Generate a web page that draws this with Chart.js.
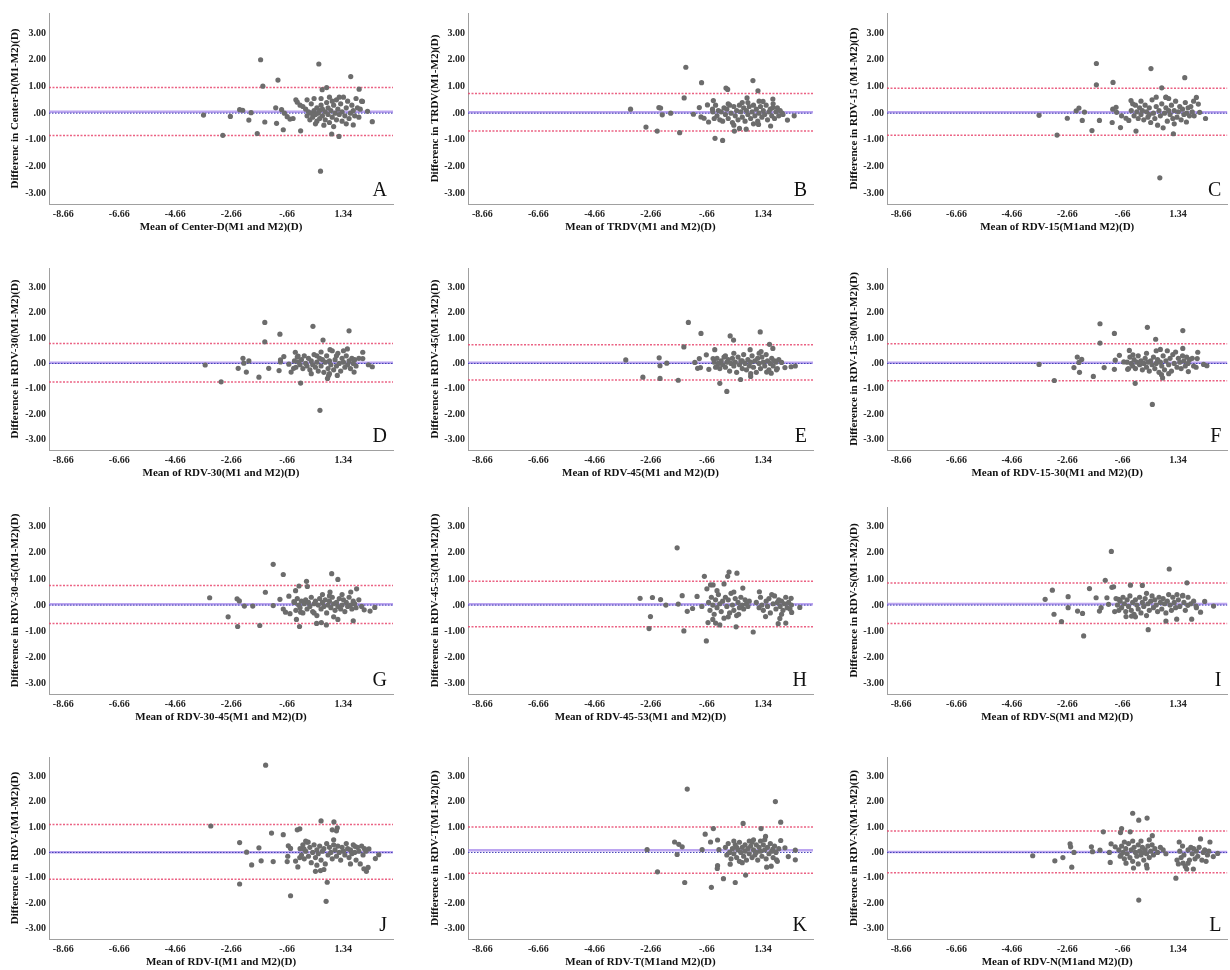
<!DOCTYPE html>
<html>
<head>
<meta charset="utf-8">
<script src="https://cdn.jsdelivr.net/npm/chart.js@4.4.0/dist/chart.umd.min.js"></script>
<style>
  html, body { margin: 0; padding: 0; background: #fff; overflow: hidden; }
  body { width: 1230px; height: 970px; position: relative; }
  canvas { position: absolute; }
</style>
</head>
<body>
<script>
// ---- data ----
const panelLetters = ['A','B','C','D','E','F','G','H','I','J','K','L'];

const yTitles = [
  'Differenc in Center-D(M1-M2)(D)',
  'Differenc in TRDV(M1-M2)(D)',
  'Difference in RDV-15 (M1-M2)(D)',
  'Difference in RDV-30(M1-M2)(D)',
  'Difference in RDV-45(M1-M2)(D)',
  'Difference in RDV-15-30(M1-M2)(D)',
  'Difference in RDV-30-45(M1-M2)(D)',
  'Difference in RDV-45-53(M1-M2)(D)',
  'Difference in RDV-S(M1-M2)(D)',
  'Difference in RDV-I(M1-M2)(D)',
  'Difference in RDV-T(M1-M2)(D)',
  'Difference in RDV-N(M1-M2)(D)'
];

const xTitles = [
  'Mean of Center-D(M1 and M2)(D)',
  'Mean of TRDV(M1 and M2)(D)',
  'Mean of RDV-15(M1and M2)(D)',
  'Mean of RDV-30(M1 and M2)(D)',
  'Mean of RDV-45(M1 and M2)(D)',
  'Mean of RDV-15-30(M1 and M2)(D)',
  'Mean of RDV-30-45(M1 and M2)(D)',
  'Mean of RDV-45-53(M1 and M2)(D)',
  'Mean of RDV-S(M1 and M2)(D)',
  'Mean of RDV-I(M1 and M2)(D)',
  'Mean of RDV-T(M1and M2)(D)',
  'Mean of RDV-N(M1and M2)(D)'
];

const meanDiff = [0.05, 0.03, 0.03, 0.03, 0.03, 0.03, 0.03, 0.03, 0.04, 0.01, 0.09, 0.02];
const upperLoA = [0.96, 0.74, 0.93, 0.78, 0.73, 0.77, 0.75, 0.91, 0.84, 1.10, 1.00, 0.84];
const lowerLoA = [-0.84, -0.67, -0.83, -0.73, -0.65, -0.68, -0.70, -0.83, -0.70, -1.05, -0.82, -0.80];

const xTicks = [-8.66, -6.66, -4.66, -2.66, -0.66, 1.34];
const xTickLabels = ['-8.66', '-6.66', '-4.66', '-2.66', '-.66', '1.34'];
const yTicks = [-3, -2, -1, 0, 1, 2, 3];
const yTickLabels = ['-3.00', '-2.00', '-1.00', '.00', '1.00', '2.00', '3.00'];
const xMin = -9.17, xMax = 3.12, yMin = -3.4, yMax = 3.75;

const pointsA = [
  [-3.65,-0.07],[-2.96,-0.83],[-2.69,-0.12],[-2.36,0.13],[-2.25,0.11],[-2.03,-0.26],[-1.95,0.02],[-1.73,-0.76],
  [-1.61,2.00],[-1.53,1.01],[-1.46,-0.33],[-1.07,0.20],[-1.04,-0.38],[-0.99,1.24],[-0.86,0.13],[-0.80,-0.62],
  [-0.76,0.00],[-0.66,-0.13],[-0.56,-0.22],[-0.45,-0.20],[-0.35,0.50],[-0.30,0.41],[-0.18,-0.66],[0.47,1.84],
  [0.53,-2.17],[0.59,0.88],[0.75,0.96],[1.19,-0.87],[1.61,1.37],[1.91,0.90],[2.21,0.07],[2.38,-0.32],
  [2.03,0.44],[1.70,-0.44],[0.93,-0.78],
  [-0.2,0.3],[-0.1,0.25],[0.0,0.15],[0.05,-0.1],[0.1,0.05],[0.15,-0.25],[0.2,0.35],[0.2,0.0],[0.25,-0.15],
  [0.3,0.1],[0.3,0.55],[0.35,-0.05],[0.4,0.2],[0.4,-0.3],[0.45,0.0],[0.5,0.1],[0.5,-0.2],[0.55,0.3],[0.6,-0.1],
  [0.6,0.15],[0.65,-0.45],[0.7,0.05],[0.7,-0.25],[0.75,0.4],[0.8,-0.05],[0.8,0.2],[0.85,0.6],[0.85,-0.35],
  [0.9,0.1],[0.95,-0.15],[1.0,0.3],[1.0,-0.5],[1.05,0.0],[1.1,0.5],[1.1,-0.25],[1.15,0.15],[1.2,-0.05],
  [1.25,0.35],[1.3,-0.3],[1.3,0.05],[1.35,0.6],[1.4,-0.1],[1.45,0.2],[1.5,0.45],[1.55,-0.2],[1.6,0.0],
  [1.65,0.3],[1.7,0.1],[1.75,-0.1],[1.8,0.55],[1.85,0.2],[1.9,-0.15],[1.95,0.15],[2.0,0.45],[0.05,0.5],
  [0.55,0.55],[0.95,0.45],[1.2,0.6],[0.35,-0.4],[1.45,-0.4]
];

const pointsB = [
  [-3.38,0.15],[-2.83,-0.52],[-2.43,-0.67],[-2.37,0.21],[-2.31,0.19],[-2.25,-0.06],[-1.95,0.0],[-1.63,-0.73],
  [-1.47,0.57],[-1.41,1.72],[-1.14,-0.04],[-0.93,0.21],[-0.85,1.14],[-0.87,-0.14],[-0.76,-0.19],[-0.60,-0.33],
  [-0.64,0.31],[-0.46,0.15],[-0.43,0.47],[-0.37,-0.94],[-0.10,-1.02],[0.02,0.94],[0.08,0.89],[0.32,-0.67],
  [0.50,-0.57],[0.74,-0.60],[0.77,0.57],[0.98,1.22],[1.16,0.84],[1.34,0.44],[1.69,0.21],[1.69,0.53],
  [2.02,0.0],[2.21,-0.26],[2.45,-0.10],[1.18,-0.42],[1.61,-0.48],
  [-0.45,0.05],[-0.4,-0.2],[-0.35,0.3],[-0.3,-0.1],[-0.25,0.1],[-0.2,-0.25],[-0.15,0.05],[-0.1,-0.3],
  [-0.05,0.2],[0.0,-0.05],[0.05,0.15],[0.1,-0.2],[0.15,0.3],[0.2,0.0],[0.25,-0.35],[0.3,0.25],[0.35,-0.1],
  [0.4,0.1],[0.45,-0.25],[0.5,0.3],[0.55,0.05],[0.6,-0.15],[0.65,0.2],[0.7,-0.3],[0.75,0.1],[0.8,-0.05],
  [0.85,0.25],[0.9,-0.2],[0.95,0.05],[1.0,0.3],[1.05,-0.1],[1.1,0.15],[1.15,-0.3],[1.2,0.0],[1.25,0.25],
  [1.3,-0.15],[1.35,0.1],[1.4,-0.05],[1.45,0.3],[1.5,-0.25],[1.55,0.05],[1.6,0.15],[1.65,-0.1],[1.7,0.35],
  [1.75,-0.2],[1.8,0.05],[1.85,0.2],[1.9,-0.1],[1.95,0.1],[2.05,-0.05],[0.3,-0.45],[0.8,0.4],[1.2,0.45],
  [0.1,0.35],[1.0,-0.4],[0.6,0.4]
];

const pointsC = [
  [-3.68,-0.08],[-3.03,-0.82],[-2.66,-0.19],[-2.34,0.09],[-2.24,0.19],[-2.12,-0.27],[-2.04,0.04],[-1.77,-0.65],
  [-1.61,1.86],[-1.61,1.06],[-1.50,-0.27],[-1.04,-0.35],[-1.02,0.15],[-1.01,1.15],[-0.90,0.22],[-0.88,0.03],
  [-0.74,-0.54],[-0.70,-0.10],[-0.54,-0.19],[-0.44,-0.27],[-0.36,0.47],[-0.18,-0.67],[0.36,1.67],[0.68,-2.42],
  [0.75,0.95],[0.90,0.59],[1.17,-0.77],[1.58,1.33],[2.00,0.59],[2.07,0.34],[2.12,0.03],[2.33,-0.20],
  [1.64,-0.33],[1.92,-0.10],
  [-0.35,0.1],[-0.3,0.35],[-0.25,-0.1],[-0.2,0.3],[-0.15,0.05],[-0.1,-0.2],[-0.05,0.2],[0.0,-0.05],[0.05,0.1],
  [0.1,-0.25],[0.15,0.3],[0.2,0.05],[0.25,-0.15],[0.3,0.2],[0.35,-0.35],[0.4,0.5],[0.45,0.0],[0.5,-0.2],
  [0.55,0.25],[0.6,-0.45],[0.65,0.1],[0.7,-0.1],[0.75,0.35],[0.8,-0.55],[0.85,0.0],[0.9,0.2],[0.95,-0.3],
  [1.0,0.55],[1.05,-0.05],[1.1,0.3],[1.15,-0.2],[1.2,0.1],[1.25,0.45],[1.3,-0.15],[1.35,0.05],[1.4,0.25],
  [1.45,-0.25],[1.5,0.15],[1.55,-0.05],[1.6,0.4],[1.65,0.0],[1.7,0.2],[1.75,-0.1],[1.8,0.25],[1.85,0.05],
  [1.9,0.45],[0.0,0.45],[0.55,0.6],[1.2,-0.4],[0.9,0.6],[0.3,-0.05],[1.0,0.1]
];

const pointsD = [
  [-3.59,-0.06],[-3.02,-0.72],[-2.41,-0.19],[-2.24,0.20],[-2.21,0.01],[-2.12,-0.34],[-2.03,0.10],[-1.67,-0.54],
  [-1.46,1.61],[-1.46,0.85],[-1.32,-0.19],[-0.95,-0.28],[-0.92,1.15],[-0.90,0.06],[-0.90,0.14],[-0.78,0.27],
  [-0.60,-0.03],[-0.52,-0.34],[-0.43,-0.19],[-0.37,0.44],[-0.27,0.29],[-0.18,-0.77],[0.26,1.46],[0.51,-1.84],
  [0.62,0.92],[0.87,0.54],[0.78,-0.59],[0.82,-0.47],[1.55,1.28],[1.49,0.57],[2.04,0.44],[2.04,0.19],
  [2.24,-0.05],[2.38,-0.13],[1.73,-0.34],[1.13,-0.47],
  [-0.4,0.1],[-0.35,-0.15],[-0.3,0.25],[-0.25,0.05],[-0.2,-0.05],[-0.15,0.15],[-0.1,-0.2],[-0.05,0.3],
  [0.0,0.0],[0.05,-0.1],[0.1,0.2],[0.15,-0.25],[0.2,0.1],[0.25,-0.05],[0.3,0.35],[0.35,-0.15],[0.4,0.05],
  [0.45,-0.3],[0.5,0.2],[0.55,-0.1],[0.6,0.15],[0.65,-0.35],[0.7,0.05],[0.75,0.3],[0.8,-0.2],[0.85,0.1],
  [0.9,-0.05],[0.95,0.5],[1.0,-0.25],[1.05,0.15],[1.1,-0.1],[1.15,0.4],[1.2,0.0],[1.25,-0.3],[1.3,0.2],
  [1.35,0.05],[1.4,-0.15],[1.45,0.3],[1.5,-0.05],[1.55,0.1],[1.6,-0.2],[1.65,0.2],[1.7,0.0],[1.75,0.15],
  [1.8,-0.1],[1.9,0.2],[0.55,0.45],[0.2,-0.4],[1.35,0.5],[0.85,-0.4],[1.1,0.3],[0.4,0.3]
];

const pointsE = [
  [-3.55,0.14],[-2.94,-0.54],[-2.36,0.22],[-2.33,-0.09],[-2.33,-0.59],[-2.09,0.01],[-1.68,-0.66],[-1.48,0.65],
  [-1.32,1.61],[-1.09,0.04],[-0.99,-0.19],[-0.93,0.19],[-0.87,1.18],[-0.89,-0.16],[-0.68,0.34],[-0.59,-0.23],
  [-0.44,0.19],[-0.38,0.54],[-0.32,-0.13],[-0.20,-0.78],[0.05,-1.10],[0.17,1.08],[0.29,0.92],[0.54,-0.63],
  [0.90,-0.51],[0.88,0.54],[1.24,1.24],[1.27,0.47],[1.57,0.75],[1.69,0.59],[2.00,0.04],[2.12,-0.16],
  [2.34,-0.13],[2.49,-0.10],[1.63,-0.38],[1.47,-0.34],[1.82,-0.25],
  [-0.4,0.05],[-0.35,-0.15],[-0.3,0.2],[-0.25,0.0],[-0.2,-0.2],[-0.15,0.1],[-0.1,-0.05],[-0.05,0.25],
  [0.0,-0.15],[0.05,0.05],[0.1,0.15],[0.15,-0.3],[0.2,0.0],[0.25,0.2],[0.3,-0.1],[0.35,0.05],[0.4,-0.35],
  [0.45,0.25],[0.5,-0.05],[0.55,0.1],[0.6,-0.2],[0.65,0.35],[0.7,0.0],[0.75,-0.25],[0.8,0.15],[0.85,-0.1],
  [0.9,0.05],[0.95,0.3],[1.0,-0.15],[1.05,0.1],[1.1,-0.35],[1.15,0.2],[1.2,0.0],[1.25,-0.2],[1.3,0.25],
  [1.35,0.05],[1.4,-0.1],[1.45,0.35],[1.5,0.1],[1.55,-0.25],[1.6,0.0],[1.65,0.2],[1.7,-0.1],[1.75,0.1],
  [1.8,0.05],[1.85,-0.2],[1.9,0.15],[0.3,0.4],[0.9,-0.4],[1.2,0.4],[0.0,0.3],[0.6,0.1]
];

const pointsF = [
  [-3.68,-0.04],[-3.13,-0.67],[-2.42,-0.16],[-2.30,0.25],[-2.24,0.04],[-2.22,-0.35],[-2.14,0.16],[-1.72,-0.51],
  [-1.48,1.56],[-1.48,0.80],[-1.33,-0.16],[-0.96,1.18],[-0.96,-0.23],[-0.93,0.13],[-0.78,0.32],[-0.62,0.06],
  [-0.48,-0.23],[-0.42,0.51],[-0.29,0.34],[-0.21,-0.78],[0.23,1.42],[0.41,-1.61],[0.53,0.95],[0.78,-0.57],
  [0.74,-0.44],[1.51,1.29],[1.51,0.59],[2.05,0.44],[2.03,0.19],[1.99,-0.15],[2.26,-0.04],[2.38,-0.09],
  [1.71,-0.32],
  [-0.5,0.05],[-0.45,-0.2],[-0.4,0.25],[-0.35,0.0],[-0.3,-0.1],[-0.25,0.15],[-0.2,-0.2],[-0.15,0.05],
  [-0.1,0.3],[-0.05,-0.05],[0.0,0.1],[0.05,-0.25],[0.1,0.0],[0.15,0.2],[0.2,-0.15],[0.25,0.05],[0.3,-0.3],
  [0.35,0.1],[0.4,-0.05],[0.45,0.25],[0.5,-0.2],[0.55,0.0],[0.6,0.15],[0.65,-0.35],[0.7,0.05],[0.75,-0.1],
  [0.8,0.3],[0.85,-0.25],[0.9,0.1],[0.95,0.5],[1.0,-0.05],[1.05,0.2],[1.1,-0.3],[1.15,0.35],[1.2,0.0],
  [1.25,0.45],[1.3,-0.15],[1.35,0.2],[1.4,0.05],[1.45,-0.2],[1.5,0.3],[1.55,0.1],[1.6,-0.1],[1.65,0.25],
  [1.7,0.0],[1.75,0.15],[1.85,0.2],[1.9,-0.1],[0.55,0.5],[0.2,0.4],[1.0,-0.4],[0.7,0.55]
];

const pointsG = [
  [-3.43,0.28],[-2.77,-0.45],[-2.45,0.24],[-2.37,0.16],[-2.43,-0.82],[-2.19,-0.04],[-1.89,-0.04],[-1.64,-0.78],
  [-1.44,0.49],[-1.16,1.56],[-1.16,-0.02],[-0.92,0.22],[-0.80,1.17],[-0.80,-0.15],[-0.72,-0.27],[-0.60,0.34],
  [-0.56,-0.33],[-0.42,0.13],[-0.36,0.55],[-0.33,-0.55],[-0.24,0.73],[-0.22,-0.82],[-0.18,-0.27],[0.03,0.91],
  [0.06,0.71],[0.39,-0.70],[0.56,-0.67],[0.74,-0.76],[0.93,1.20],[1.15,0.98],[0.87,0.50],[1.15,-0.55],
  [1.61,0.50],[1.82,0.62],[1.70,-0.60],[2.09,-0.18],[2.30,-0.23],[2.47,-0.09],
  [-0.4,0.1],[-0.35,-0.2],[-0.3,0.25],[-0.25,0.0],[-0.2,-0.1],[-0.15,0.15],[-0.1,-0.3],[-0.05,0.05],
  [0.0,0.2],[0.05,-0.15],[0.1,0.1],[0.15,-0.05],[0.2,0.3],[0.25,-0.25],[0.3,0.05],[0.35,0.15],[0.4,-0.4],
  [0.45,0.0],[0.5,0.25],[0.55,-0.15],[0.6,0.1],[0.65,-0.05],[0.7,0.2],[0.75,-0.3],[0.8,0.0],[0.85,0.15],
  [0.9,-0.1],[0.95,0.3],[1.0,0.05],[1.05,-0.2],[1.1,0.1],[1.15,-0.05],[1.2,0.25],[1.25,-0.15],[1.3,0.0],
  [1.35,0.2],[1.4,-0.25],[1.45,0.1],[1.5,-0.05],[1.55,0.3],[1.6,0.0],[1.65,-0.15],[1.7,0.15],[1.75,0.05],
  [1.8,-0.1],[1.9,0.2],[2.0,-0.05],[0.6,0.4],[1.0,-0.45],[0.3,-0.3],[1.3,0.4],[0.85,0.35]
];

const pointsH = [
  [-3.04,0.26],[-2.67,-0.44],[-2.72,-0.90],[-2.60,0.29],[-2.31,0.21],[-2.12,0.0],[-1.72,2.19],[-1.68,0.04],
  [-1.54,0.36],[-1.48,-0.99],[-1.36,-0.24],[-1.17,-0.13],[-1.01,0.33],[-0.84,-0.05],[-0.75,1.10],[-0.68,-1.37],
  [-0.66,0.62],[-0.62,-0.67],[-0.53,0.77],[-0.44,0.77],[-0.35,-0.69],[-0.20,-0.76],[-0.05,0.81],[0.08,1.10],
  [0.13,1.26],[0.41,1.22],[0.38,-0.83],[0.47,-0.35],[0.62,0.65],[0.99,-1.03],[1.21,0.51],[1.43,-0.44],
  [1.88,-0.71],[2.15,-0.69],[1.94,-0.51],[2.34,0.26],[2.65,-0.09],[2.36,-0.28],
  [-0.6,0.1],[-0.55,-0.2],[-0.5,0.3],[-0.45,0.0],[-0.4,-0.35],[-0.35,0.2],[-0.3,-0.1],[-0.25,0.4],
  [-0.2,0.05],[-0.15,-0.25],[-0.1,0.15],[-0.05,-0.5],[0.0,0.3],[0.05,-0.05],[0.1,0.2],[0.15,-0.3],[0.2,0.45],
  [0.25,0.0],[0.3,-0.2],[0.35,0.25],[0.4,-0.4],[0.45,0.1],[0.5,-0.1],[0.55,0.3],[0.6,0.0],[0.65,-0.15],
  [0.7,0.2],[0.75,0.05],[0.8,-0.05],[0.85,0.15],[-0.3,0.55],[0.1,-0.45],[0.3,0.5],[-0.45,-0.55],
  [1.1,0.1],[1.2,-0.1],[1.25,0.3],[1.3,0.0],[1.35,-0.2],[1.45,0.15],[1.5,-0.05],[1.55,0.25],[1.6,-0.3],
  [1.7,0.05],[1.75,0.35],[1.8,-0.15],[1.85,0.1],[1.9,0.2],[1.95,-0.05],[2.0,0.15],[2.05,-0.2],[2.1,0.05],
  [2.15,0.3],[2.2,-0.1],[2.25,0.1],[2.3,-0.15],[2.35,0.0],[1.65,0.4],[2.0,-0.35]
];

const pointsI = [
  [-3.46,0.22],[-3.20,0.57],[-3.14,-0.35],[-2.87,-0.63],[-2.63,0.32],[-2.63,-0.10],[-2.29,-0.23],[-2.11,-0.32],
  [-2.07,-1.18],[-1.86,0.63],[-1.62,0.28],[-1.50,-0.23],[-1.44,-0.10],[-1.29,0.95],[-1.23,0.28],[-1.17,0.03],
  [-1.07,2.05],[-1.05,0.68],[-0.99,0.70],[-0.95,-0.25],[-0.81,0.22],[-0.54,-0.44],[-0.38,0.76],[-0.34,-0.42],
  [0.05,0.75],[0.26,-0.94],[0.90,-0.61],[1.02,1.38],[1.29,-0.54],[1.66,0.85],[1.69,-0.01],[1.83,-0.54],
  [1.99,-0.04],[2.15,-0.27],[2.30,0.14],[2.62,-0.04],[1.51,0.37],
  [-0.9,0.25],[-0.85,0.0],[-0.8,-0.2],[-0.75,0.15],[-0.7,-0.1],[-0.65,0.3],[-0.6,0.05],[-0.55,-0.25],
  [-0.5,0.2],[-0.45,-0.05],[-0.4,0.35],[-0.35,-0.2],[-0.3,0.1],[-0.25,-0.35],[-0.2,0.2],[-0.15,0.0],
  [-0.1,-0.15],[-0.05,0.3],[0.0,-0.3],[0.05,0.1],[0.1,-0.05],[0.15,0.25],[0.2,-0.4],[0.25,0.05],[0.3,-0.2],
  [0.35,0.15],[0.4,0.35],[0.45,-0.1],[0.5,0.2],[0.55,0.0],[0.6,-0.25],[0.65,0.3],[0.7,0.1],[0.75,-0.15],
  [0.8,0.25],[0.85,0.05],[0.9,-0.3],[0.95,0.15],[1.0,0.4],[1.05,0.0],[1.1,-0.2],[1.15,0.3],[1.2,0.1],
  [1.25,-0.1],[1.3,0.4],[1.35,0.2],[1.4,-0.05],[1.5,0.35],[1.55,0.1],[1.6,-0.2],[1.7,0.3],[1.8,0.05],
  [1.9,0.15],[2.0,-0.1],[0.2,0.45],[-0.2,-0.45]
];

const pointsJ = [
  [-3.39,1.04],[-2.36,0.39],[-2.36,-1.24],[-2.11,0.01],[-1.93,-0.49],[-1.67,0.18],[-1.59,-0.33],[-1.43,3.43],
  [-1.22,0.76],[-1.16,-0.36],[-0.80,0.70],[-0.66,-0.36],[-0.64,-0.15],[-0.62,0.26],[-0.54,0.16],[-0.54,-1.70],
  [-0.36,-0.34],[-0.30,0.89],[-0.21,0.93],[-0.28,-0.57],[-0.21,-0.20],[-0.06,0.14],[0.09,0.41],[0.35,-0.74],
  [0.53,-0.71],[0.55,1.24],[0.65,-0.67],[0.77,-1.17],[0.73,-1.92],[1.01,1.20],[1.13,0.97],[1.10,0.85],
  [0.95,0.89],[1.76,0.24],[2.08,-0.64],[2.17,-0.74],[2.23,-0.59],[2.49,-0.24],[2.61,-0.09],[2.26,0.14],
  [-0.2,0.15],[-0.15,-0.1],[-0.1,0.3],[-0.05,-0.25],[0.0,0.05],[0.05,0.4],[0.1,-0.15],[0.15,0.2],[0.2,-0.4],
  [0.25,0.0],[0.3,0.3],[0.35,-0.2],[0.4,0.1],[0.45,-0.05],[0.5,0.25],[0.55,-0.3],[0.6,0.05],[0.65,0.15],
  [0.7,-0.45],[0.75,0.35],[0.8,-0.1],[0.85,0.2],[0.9,0.0],[0.95,-0.25],[1.0,0.3],[1.05,0.1],[1.1,-0.15],
  [1.15,0.25],[1.2,0.0],[1.25,-0.3],[1.3,0.2],[1.35,0.05],[1.4,-0.1],[1.45,0.35],[1.5,0.15],[1.55,-0.2],
  [1.6,0.1],[1.65,-0.05],[1.7,0.3],[1.75,0.0],[1.8,-0.3],[1.85,0.2],[1.9,0.05],[1.95,-0.45],[2.0,0.25],
  [2.05,-0.1],[2.1,0.15],[2.15,0.05],[1.0,0.5],[0.4,-0.5],[1.6,-0.45],[0.0,0.45]
];

const pointsK = [
  [-2.79,0.11],[-2.42,-0.76],[-1.81,0.41],[-1.72,-0.08],[-1.66,0.32],[-1.54,0.22],[-1.45,-1.18],[-1.36,2.49],
  [-0.83,0.11],[-0.72,0.72],[-0.53,0.41],[-0.50,-1.37],[-0.43,0.94],[-0.28,0.49],[-0.28,-0.52],[-0.29,-0.63],
  [-0.23,0.11],[-0.07,-1.03],[0.17,-0.46],[0.35,-1.18],[0.63,1.14],[0.72,-0.89],[1.27,0.94],[1.43,0.63],
  [1.47,-0.58],[1.63,-0.54],[1.78,2.00],[1.97,1.19],[1.97,0.47],[2.12,0.18],[2.24,-0.16],[2.49,0.09],
  [2.49,-0.29],[1.69,0.13],[1.82,-0.29],
  [0.0,0.2],[0.05,-0.1],[0.1,0.35],[0.15,0.0],[0.2,-0.25],[0.25,0.15],[0.3,-0.05],[0.35,0.3],[0.4,-0.2],
  [0.45,0.1],[0.5,0.4],[0.5,-0.35],[0.55,0.0],[0.6,0.2],[0.65,-0.15],[0.7,0.3],[0.7,0.05],[0.75,-0.3],
  [0.8,0.15],[0.85,0.45],[0.85,-0.05],[0.9,0.25],[0.95,-0.2],[1.0,0.1],[1.0,0.5],[1.05,-0.1],[1.1,0.3],
  [1.1,0.0],[1.15,-0.3],[1.2,0.2],[1.25,0.05],[1.25,0.45],[1.3,-0.15],[1.35,0.3],[1.4,0.1],[1.45,-0.25],
  [1.5,0.2],[1.55,-0.05],[1.6,0.35],[1.65,0.05],[1.7,-0.2],[1.75,0.25],[1.8,0.0],[1.85,-0.35],[1.9,0.15],
  [0.3,0.45],[0.6,-0.4],[1.4,0.5],[0.95,0.4],[0.4,0.2]
];

const pointsL = [
  [-3.91,-0.13],[-3.11,-0.33],[-2.82,-0.20],[-2.56,0.34],[-2.54,0.22],[-2.50,-0.58],[-2.42,0.0],[-1.79,0.22],
  [-1.75,0.03],[-1.48,0.09],[-1.36,0.81],[-1.14,0.0],[-1.11,-0.39],[-1.08,0.34],[-0.93,0.22],[-0.74,0.78],
  [-0.70,0.94],[-0.72,-0.10],[-0.60,0.41],[-0.54,-0.42],[-0.39,0.81],[-0.30,1.54],[-0.27,-0.61],[-0.08,1.27],
  [-0.08,-1.87],[0.22,1.35],[0.22,-0.61],[0.41,0.66],[1.26,-1.01],[1.38,0.41],[1.52,-0.42],[1.70,-0.42],
  [1.89,-0.65],[2.15,0.53],[2.49,0.41],[2.61,-0.16],[2.77,-0.04],[2.35,-0.35],
  [-0.8,0.1],[-0.75,-0.15],[-0.7,0.25],[-0.65,0.0],[-0.6,-0.25],[-0.55,0.15],[-0.5,-0.05],[-0.45,0.35],
  [-0.4,-0.2],[-0.35,0.1],[-0.3,-0.35],[-0.25,0.2],[-0.2,0.0],[-0.15,-0.15],[-0.1,0.3],[-0.05,0.05],
  [0.0,-0.1],[0.05,0.2],[0.1,-0.3],[0.15,0.1],[0.2,-0.05],[0.25,0.25],[0.3,-0.2],[0.35,0.05],[0.4,0.3],
  [0.45,-0.1],[0.5,0.15],[0.6,0.0],[0.7,0.2],[0.8,0.1],[0.9,-0.05],[0.0,0.45],[-0.3,0.45],[0.3,0.5],
  [-0.1,-0.45],[0.1,0.0],[0.2,-0.5],
  [1.3,-0.3],[1.35,-0.45],[1.4,0.05],[1.45,-0.2],[1.5,0.25],[1.55,-0.1],[1.6,-0.55],[1.7,0.1],[1.75,-0.3],
  [1.8,0.2],[1.85,-0.05],[1.9,0.15],[1.95,-0.25],[2.0,0.05],[2.05,-0.15],[2.1,0.2],[2.2,-0.3],[2.25,0.0],
  [2.3,0.1],[2.4,-0.1],[2.45,0.05],[1.65,-0.65]
];

const panelPoints = [pointsA, pointsB, pointsC, pointsD, pointsE, pointsF,
                     pointsG, pointsH, pointsI, pointsJ, pointsK, pointsL];

// ---- layout of the 4x3 grid ----
const colLeft = [0, 410, 820];
const yAxisW = [49, 58, 67];
const yTitlePad = [9, 19, 28];
const rightPad = [17, 7, 0];
const plotTop = [8, 263, 502, 752];
const plotBottom = [204, 450, 694, 939];
const xAxisH = 30;

const serif = '"Liberation Serif", "Times New Roman", serif';

// big panel letter in the lower right of the plot area
const letterPlugin = {
  id: 'panelLetter',
  afterDatasetsDraw(chart, args, opts) {
    const { ctx, chartArea } = chart;
    ctx.save();
    ctx.font = '20px ' + serif;
    ctx.fillStyle = '#111';
    ctx.textAlign = 'right';
    ctx.textBaseline = 'alphabetic';
    ctx.fillText(opts.text, chartArea.right - 6, chartArea.bottom - 8);
    ctx.restore();
  }
};

function hLine(y, color, width, dash, order) {
  return {
    data: [{ x: xMin, y: y }, { x: xMax, y: y }],
    showLine: true,
    borderColor: color,
    borderWidth: width,
    borderDash: dash,
    pointRadius: 0,
    pointHoverRadius: 0,
    order: order
  };
}

panelLetters.forEach((letter, i) => {
  const row = Math.floor(i / 3), col = i % 3;
  const top = plotTop[row] - 4;
  const height = plotBottom[row] - plotTop[row] + 4 + xAxisH;
  const width = col === 2 ? 1230 - colLeft[col] : 410;

  const canvas = document.createElement('canvas');
  canvas.width = width;
  canvas.height = height;
  canvas.style.left = colLeft[col] + 'px';
  canvas.style.top = top + 'px';
  canvas.style.width = width + 'px';
  canvas.style.height = height + 'px';
  document.body.appendChild(canvas);

  new Chart(canvas.getContext('2d'), {
    type: 'scatter',
    data: {
      datasets: [
        {
          data: panelPoints[i].map(p => ({ x: p[0], y: p[1] })),
          backgroundColor: '#6c6c6c',
          borderWidth: 0,
          pointRadius: 2.6,
          pointHoverRadius: 2.6,
          order: 0
        },
        hLine(0, '#4040b4', 1, [1.5, 1.5], 1),
        hLine(meanDiff[i], 'rgba(165,135,235,0.75)', 2.5, [], 2),
        hLine(upperLoA[i], 'rgba(232,70,110,0.85)', 1.5, [2, 1.5], 3),
        hLine(lowerLoA[i], 'rgba(232,70,110,0.85)', 1.5, [2, 1.5], 3)
      ]
    },
    options: {
      responsive: false,
      animation: false,
      devicePixelRatio: 1,
      layout: { padding: { top: 4, right: rightPad[col], left: 0, bottom: 0 } },
      plugins: {
        legend: { display: false },
        tooltip: { enabled: false },
        panelLetter: { text: letter }
      },
      scales: {
        x: {
          type: 'linear',
          min: xMin,
          max: xMax,
          afterBuildTicks: s => { s.ticks = xTicks.map(v => ({ value: v })); },
          afterFit: s => { s.height = xAxisH; },
          ticks: {
            autoSkip: false,
            maxRotation: 0,
            padding: 4,
            color: '#222',
            font: { family: serif, size: 10, weight: 'bold' },
            callback: (v, idx) => xTickLabels[idx]
          },
          grid: { display: false, drawTicks: false },
          border: { display: true, color: '#a0a0a0' },
          title: {
            display: true,
            text: xTitles[i],
            color: '#111',
            font: { family: serif, size: 11, weight: 'bold' },
            padding: { top: 0, bottom: 0 }
          }
        },
        y: {
          type: 'linear',
          min: yMin,
          max: yMax,
          afterBuildTicks: s => { s.ticks = yTicks.map(v => ({ value: v })); },
          afterFit: s => { s.width = yAxisW[col]; },
          ticks: {
            autoSkip: false,
            padding: 3,
            color: '#222',
            font: { family: serif, size: 10, weight: 'bold' },
            callback: (v, idx) => yTickLabels[idx]
          },
          grid: { display: false, drawTicks: false },
          border: { display: true, color: '#a0a0a0' },
          title: {
            display: true,
            text: yTitles[i],
            color: '#111',
            font: { family: serif, size: 11, weight: 'bold' },
            padding: { top: yTitlePad[col], bottom: 0 }
          }
        }
      }
    },
    plugins: [letterPlugin]
  });
});
</script>
</body>
</html>
